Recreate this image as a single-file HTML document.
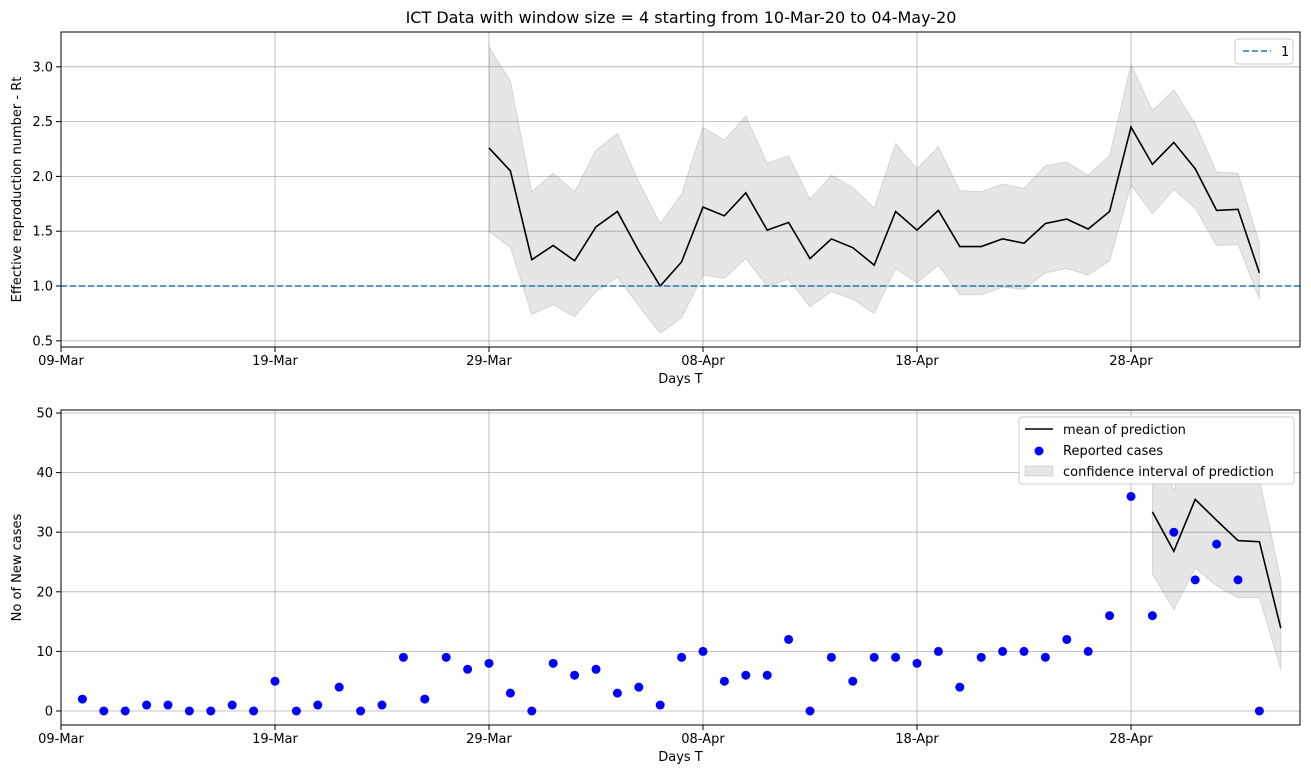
<!DOCTYPE html>
<html><head><meta charset="utf-8"><style>
body{margin:0;background:#fff;font-family:"Liberation Sans","DejaVu Sans",sans-serif}
svg text{font-family:"DejaVu Sans","Liberation Sans",sans-serif;font-size:13px;fill:#000}
</style></head><body>
<svg id="c" width="1311" height="778"></svg>
<script>
const rtDays=[20,21,22,23,24,25,26,27,28,29,30,31,32,33,34,35,36,37,38,39,40,41,42,43,44,45,46,47,48,49,50,51,52,53,54,55,56];
const rtMean=[2.26,2.05,1.24,1.37,1.23,1.54,1.68,1.32,1.00,1.22,1.72,1.64,1.85,1.51,1.58,1.25,1.43,1.35,1.19,1.68,1.51,1.69,1.36,1.36,1.43,1.39,1.57,1.61,1.52,1.68,2.45,2.11,2.31,2.07,1.69,1.70,1.12];
const rtUpper=[3.18,2.87,1.86,2.03,1.86,2.24,2.39,1.95,1.57,1.84,2.45,2.33,2.55,2.12,2.19,1.79,2.01,1.90,1.71,2.30,2.07,2.27,1.87,1.86,1.93,1.89,2.10,2.13,2.01,2.19,3.02,2.60,2.79,2.48,2.04,2.03,1.39];
const rtLower=[1.50,1.35,0.74,0.83,0.72,0.95,1.08,0.82,0.57,0.71,1.10,1.07,1.25,1.00,1.06,0.81,0.95,0.88,0.75,1.16,1.03,1.19,0.92,0.92,0.99,0.97,1.12,1.16,1.10,1.23,1.92,1.66,1.88,1.71,1.37,1.38,0.88];
const cases=[2,0,0,1,1,0,0,1,0,5,0,1,4,0,1,9,2,9,7,8,3,0,8,6,7,3,4,1,9,10,5,6,6,12,0,9,5,9,9,8,10,4,9,10,10,9,12,10,16,36,16,30,22,28,22,0];
const predDays=[51,52,53,54,55,56,57];
const predMean=[33.4,26.8,35.5,32.0,28.6,28.4,13.9];
const predUpper=[44.5,37,48,44,41,39,22];
const predLower=[23,17,24,21,19,19,7];
const xTickLabels=["09-Mar","19-Mar","29-Mar","08-Apr","18-Apr","28-Apr"];
const rtTicks=[0.5,1.0,1.5,2.0,2.5,3.0];
const caseTicks=[0,10,20,30,40,50];

const svg=document.getElementById('c');const NS='http://www.w3.org/2000/svg';
function el(t,a,p){const e=document.createElementNS(NS,t);for(const k in a)e.setAttribute(k,a[k]);(p||svg).appendChild(e);return e;}
const L=61,R=1300;
const X=d=>L+d*21.4;
function panel(top,bot,y,ticks,fmt,ylabel,name){
  const g=el('g',{});
  
  xTickLabels.forEach((t,i)=>{const x=X(i*10);
    el('line',{x1:x,x2:x,y1:top,y2:bot,stroke:'#b0b0b0','stroke-width':0.8},g);
    el('line',{x1:x,x2:x,y1:bot,y2:bot+5,stroke:'#000'},g);
    const tx=el('text',{x:x,y:bot+18,'text-anchor':'middle'},g);tx.textContent=t;
    });
  ticks.forEach(v=>{const yy=y(v);
    el('line',{x1:L,x2:R,y1:yy,y2:yy,stroke:'#b0b0b0','stroke-width':0.8},g);
    el('line',{x1:L-5,x2:L,y1:yy,y2:yy,stroke:'#000'},g);
    const tx=el('text',{x:L-8,y:yy+4.5,'text-anchor':'end'},g);tx.textContent=fmt(v);
    });
  const xl=el('text',{x:(L+R)/2,y:bot+36,'text-anchor':'middle'},g);xl.textContent='Days T';
  
  const yl=el('text',{x:0,y:0,'text-anchor':'middle',transform:`translate(21,${(top+bot)/2}) rotate(-90)`},g);yl.textContent=ylabel;
  
  return g;
}
function band(days,up,lo,y,g){
  let d=days.map((dd,i)=>(i?'L':'M')+X(dd)+','+y(up[i])).join('');
  for(let i=days.length-1;i>=0;i--)d+='L'+X(days[i])+','+y(lo[i]);
  const p=el('path',{d:d+'Z',fill:'#808080','fill-opacity':0.2,stroke:'#808080','stroke-opacity':0.25},g);
  
}
function line(days,v,y,g){
  const p=el('path',{d:days.map((dd,i)=>(i?'L':'M')+X(dd)+','+y(v[i])).join(''),fill:'none',stroke:'#000','stroke-width':1.6},g);
  
}
const yT=v=>286-(v-1)*109.6;
const t=el('text',{x:681,y:23,'text-anchor':'middle',style:'font-size:16px'});t.textContent='ICT Data with window size = 4 starting from 10-Mar-20 to 04-May-20';

const g1=panel(32,347,yT,rtTicks,v=>v.toFixed(1),'Effective reproduction number - Rt','rt-panel');
band(rtDays,rtUpper,rtLower,yT,g1);line(rtDays,rtMean,yT,g1);
el('line',{x1:L,x2:R,y1:yT(1),y2:yT(1),stroke:'#1f77b4','stroke-width':1.6,'stroke-dasharray':'6,3'},g1);
el('rect',{x:L,y:32,width:R-L,height:315,fill:'none',stroke:'#000'},g1);
const lg1=el('g',{});
el('rect',{x:1235,y:39,width:58,height:25,fill:'#fff',stroke:'#ccc',rx:3},lg1);
el('line',{x1:1243,x2:1271,y1:51,y2:51,stroke:'#1f77b4','stroke-width':1.6,'stroke-dasharray':'6,3'},lg1);
el('text',{x:1281,y:56},lg1).textContent='1';
const yB=v=>711-v*5.96;
const g2=panel(410,725,yB,caseTicks,v=>String(v),'No of New cases','cases-panel');
band(predDays,predUpper,predLower,yB,g2);line(predDays,predMean,yB,g2);
cases.forEach((v,i)=>{const c=el('circle',{cx:X(i+1),cy:yB(v),r:4.5,fill:'#0000ff'},g2);
  });
el('rect',{x:L,y:410,width:R-L,height:315,fill:'none',stroke:'#000'},g2);
const lg2=el('g',{});
el('rect',{x:1019,y:417,width:275,height:67,fill:'#fff','fill-opacity':0.97,stroke:'#ccc',rx:3},lg2);
el('line',{x1:1025,x2:1053,y1:429,y2:429,stroke:'#000','stroke-width':1.6},lg2);
el('text',{x:1063,y:434},lg2).textContent='mean of prediction';
el('circle',{cx:1039,cy:451,r:4.5,fill:'#0000ff'},lg2);
el('text',{x:1063,y:455},lg2).textContent='Reported cases';
el('rect',{x:1025,y:466,width:28,height:10,fill:'#808080','fill-opacity':0.2,stroke:'#808080','stroke-opacity':0.25},lg2);
el('text',{x:1063,y:476},lg2).textContent='confidence interval of prediction';
</script></body></html>
